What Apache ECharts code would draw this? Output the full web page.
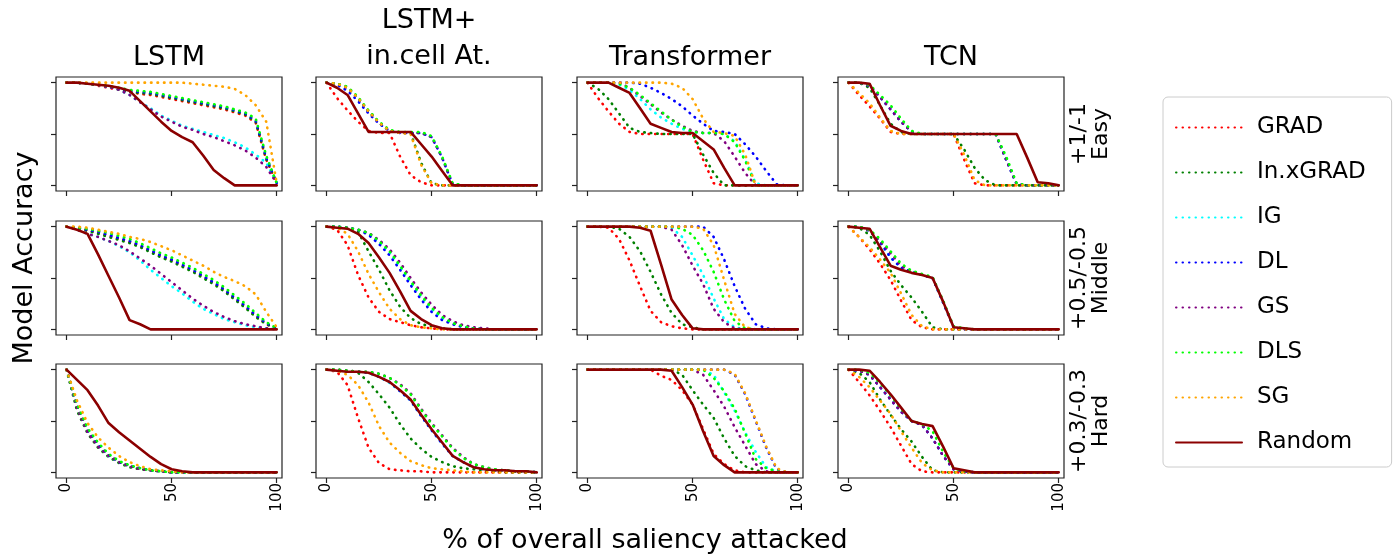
<!DOCTYPE html>
<html>
<head>
<meta charset="utf-8">
<script src="https://cdn.jsdelivr.net/npm/echarts@6/dist/echarts.min.js"></script>
<style>
  html, body { margin: 0; padding: 0; background: #fff; }
  #chart { width: 1394px; height: 557px; }
</style>
</head>
<body>
<div id="chart"></div>
<script>
// % of overall saliency attacked
const X = [0, 5, 10, 15, 20, 25, 30, 35, 40, 45, 50, 55, 60, 65, 70, 75, 80, 85, 90, 95, 100];

const methods = ['GRAD', 'In.xGRAD', 'IG', 'DL', 'GS', 'DLS', 'SG', 'Random'];
const colors = ['#ff0000', '#008000', '#00ffff', '#0000ff', '#800080', '#00ff00', '#ffa500', '#8b0000'];
const models = ['LSTM', 'LSTM+\nin.cell At.', 'Transformer', 'TCN'];
const levels = ['+1/-1\nEasy', '+0.5/-0.5\nMiddle', '+0.3/-0.3\nHard'];

// ---- Easy ----
const easyLSTM = {
  'GRAD':     [1,1,0.99,0.97,0.95, 0.93,0.91,0.89,0.88,0.86, 0.84,0.82,0.8,0.78,0.76, 0.74,0.71,0.68,0.61,0.25, 0.02],
  'In.xGRAD': [1,1,0.99,0.98,0.96, 0.93,0.91,0.9,0.89,0.87, 0.85,0.83,0.81,0.79,0.77, 0.75,0.72,0.69,0.62,0.26, 0.02],
  'IG':       [1,1,0.99,0.98,0.96, 0.93,0.88,0.81,0.75,0.68, 0.63,0.58,0.55,0.52,0.49, 0.46,0.42,0.37,0.3,0.22, 0.03],
  'DL':       [1,1,0.99,0.98,0.96, 0.94,0.92,0.91,0.9,0.88, 0.86,0.84,0.82,0.8,0.78, 0.76,0.73,0.7,0.63,0.27, 0.02],
  'GS':       [1,1,0.99,0.98,0.96, 0.93,0.88,0.81,0.74,0.67, 0.62,0.57,0.54,0.5,0.47, 0.43,0.39,0.34,0.27,0.18, 0.02],
  'DLS':      [1,1,0.99,0.98,0.97, 0.95,0.93,0.92,0.91,0.89, 0.87,0.85,0.83,0.81,0.79, 0.77,0.74,0.71,0.65,0.29, 0.02],
  'SG':       [1,1,1,1,1, 1,1,1,1,1, 1,1,0.99,0.98,0.97, 0.96,0.94,0.88,0.78,0.62, 0.02],
  'Random':   [1,1,0.99,0.98,0.97, 0.95,0.92,0.82,0.72,0.62, 0.53,0.47,0.42,0.29,0.15, 0.07,0,0,0,0, 0]
};
const easyCell = {
  'GRAD':     [1,0.85,0.73,0.62,0.53, 0.51,0.51,0.28,0.1,0.03, 0,0,0,0,0, 0,0,0,0,0, 0],
  'In.xGRAD': [1,0.99,0.95,0.85,0.72, 0.61,0.53,0.51,0.51,0.22, 0.02,0,0,0,0, 0,0,0,0,0, 0],
  'IG':       [1,0.99,0.95,0.85,0.72, 0.61,0.53,0.51,0.51,0.51, 0.47,0.27,0.01,0,0, 0,0,0,0,0, 0],
  'DL':       [1,0.98,0.92,0.82,0.7, 0.6,0.53,0.51,0.51,0.51, 0.47,0.27,0.01,0,0, 0,0,0,0,0, 0],
  'GS':       [1,0.99,0.95,0.85,0.72, 0.61,0.53,0.51,0.51,0.51, 0.47,0.27,0.01,0,0, 0,0,0,0,0, 0],
  'DLS':      [1,0.99,0.96,0.86,0.73, 0.62,0.54,0.52,0.52,0.52, 0.48,0.28,0.02,0,0, 0,0,0,0,0, 0],
  'SG':       [1,0.99,0.95,0.85,0.72, 0.61,0.53,0.51,0.5,0.2, 0.02,0,0,0,0, 0,0,0,0,0, 0],
  'Random':   [1,0.95,0.88,0.7,0.52, 0.52,0.52,0.52,0.52,0.4, 0.28,0.14,0,0,0, 0,0,0,0,0, 0]
};
const easyTrans = {
  'GRAD':     [1,0.85,0.72,0.6,0.52, 0.5,0.5,0.5,0.5,0.5, 0.5,0.25,0.02,0,0, 0,0,0,0,0, 0],
  'In.xGRAD': [1,0.94,0.84,0.7,0.56, 0.52,0.51,0.5,0.5,0.5, 0.5,0.3,0.12,0,0, 0,0,0,0,0, 0],
  'IG':       [1,1,1,0.98,0.93, 0.84,0.74,0.66,0.6,0.55, 0.52,0.51,0.51,0.5,0.43, 0.25,0.02,0,0,0, 0],
  'DL':       [1,1,1,1,1, 0.99,0.95,0.9,0.84,0.77, 0.68,0.6,0.53,0.52,0.5, 0.4,0.28,0.14,0.01,0, 0],
  'GS':       [1,1,1,1,0.95, 0.87,0.79,0.71,0.64,0.58, 0.53,0.51,0.51,0.43,0.28, 0.12,0,0,0,0, 0],
  'DLS':      [1,1,1,0.99,0.95, 0.88,0.8,0.72,0.64,0.57, 0.52,0.51,0.51,0.5,0.42, 0.24,0,0,0,0, 0],
  'SG':       [1,1,1,1,1, 1,1,1,0.99,0.95, 0.84,0.65,0.52,0.51,0.48, 0.3,0,0,0,0, 0],
  'Random':   [1,1,1,0.95,0.9, 0.75,0.6,0.56,0.52,0.51, 0.51,0.43,0.35,0.17,0, 0,0,0,0,0, 0]
};
const easyTCN = {
  'GRAD':     [1,0.88,0.77,0.65,0.52, 0.5,0.5,0.5,0.5,0.5, 0.5,0.25,0.02,0,0, 0,0,0,0,0, 0],
  'In.xGRAD': [1,1,0.95,0.78,0.6, 0.52,0.5,0.5,0.5,0.5, 0.5,0.35,0.17,0.05,0, 0,0,0,0,0, 0],
  'IG':       [1,1,0.97,0.86,0.74, 0.62,0.52,0.5,0.5,0.5, 0.5,0.5,0.5,0.5,0.5, 0.25,0.01,0,0,0, 0],
  'DL':       [1,1,0.97,0.86,0.74, 0.62,0.52,0.5,0.5,0.5, 0.5,0.5,0.5,0.5,0.5, 0.25,0.01,0,0,0, 0],
  'GS':       [1,1,0.97,0.86,0.74, 0.62,0.52,0.5,0.5,0.5, 0.5,0.5,0.5,0.5,0.5, 0.25,0.01,0,0,0, 0],
  'DLS':      [1,1,0.98,0.88,0.78, 0.65,0.53,0.5,0.5,0.5, 0.5,0.5,0.5,0.5,0.5, 0.28,0.02,0,0,0, 0],
  'SG':       [1,0.9,0.8,0.66,0.53, 0.5,0.5,0.5,0.5,0.5, 0.5,0.3,0.05,0,0, 0,0,0,0,0, 0],
  'Random':   [1,1,0.99,0.78,0.58, 0.53,0.5,0.5,0.5,0.5, 0.5,0.5,0.5,0.5,0.5, 0.5,0.5,0.27,0.03,0.02, 0]
};

// ---- Middle ----
const midLSTM = {
  'GRAD':     [1,0.99,0.96,0.94,0.91, 0.88,0.85,0.81,0.76,0.71, 0.67,0.62,0.57,0.51,0.45, 0.38,0.3,0.22,0.13,0.05, 0.01],
  'In.xGRAD': [1,0.99,0.96,0.93,0.9, 0.87,0.84,0.8,0.75,0.7, 0.66,0.61,0.56,0.5,0.44, 0.37,0.29,0.21,0.12,0.05, 0.01],
  'IG':       [1,0.97,0.93,0.9,0.86, 0.81,0.75,0.67,0.58,0.5, 0.42,0.35,0.27,0.2,0.15, 0.1,0.07,0.04,0.02,0.01, 0],
  'DL':       [1,0.99,0.97,0.95,0.92, 0.89,0.86,0.82,0.77,0.72, 0.68,0.63,0.58,0.52,0.46, 0.39,0.31,0.23,0.14,0.06, 0.01],
  'GS':       [1,0.97,0.93,0.9,0.86, 0.82,0.76,0.69,0.62,0.54, 0.46,0.38,0.3,0.23,0.17, 0.12,0.08,0.05,0.03,0.01, 0],
  'DLS':      [1,0.99,0.98,0.96,0.94, 0.91,0.88,0.84,0.79,0.74, 0.7,0.65,0.6,0.54,0.48, 0.41,0.33,0.25,0.16,0.07, 0.01],
  'SG':       [1,1,0.99,0.97,0.95, 0.93,0.9,0.88,0.85,0.81, 0.77,0.72,0.67,0.62,0.56, 0.51,0.47,0.42,0.34,0.17, 0.02],
  'Random':   [1,0.97,0.93,0.73,0.52, 0.31,0.09,0.05,0,0, 0,0,0,0,0, 0,0,0,0,0, 0]
};
const midCell = {
  'GRAD':     [1,0.97,0.82,0.53,0.31, 0.17,0.1,0.07,0.04,0.02, 0.01,0,0,0,0, 0,0,0,0,0, 0],
  'In.xGRAD': [1,1,0.99,0.95,0.76, 0.58,0.38,0.22,0.11,0.05, 0.03,0.01,0,0,0, 0,0,0,0,0, 0],
  'IG':       [1,1,0.99,0.97,0.93, 0.85,0.75,0.61,0.46,0.32, 0.2,0.11,0.06,0.03,0.01, 0,0,0,0,0, 0],
  'DL':       [1,1,0.99,0.97,0.92, 0.83,0.72,0.58,0.43,0.29, 0.17,0.09,0.05,0.02,0.01, 0,0,0,0,0, 0],
  'GS':       [1,1,0.99,0.97,0.94, 0.87,0.78,0.65,0.5,0.36, 0.24,0.14,0.08,0.04,0.02, 0.01,0,0,0,0, 0],
  'DLS':      [1,1,0.99,0.97,0.94, 0.86,0.76,0.62,0.47,0.33, 0.21,0.12,0.06,0.03,0.01, 0,0,0,0,0, 0],
  'SG':       [1,0.99,0.93,0.76,0.54, 0.36,0.2,0.1,0.04,0.02, 0.01,0,0,0,0, 0,0,0,0,0, 0],
  'Random':   [1,0.99,0.98,0.93,0.84, 0.7,0.55,0.37,0.18,0.1, 0.04,0.01,0,0,0, 0,0,0,0,0, 0]
};
const midTrans = {
  'GRAD':     [1,1,0.99,0.88,0.67, 0.42,0.18,0.07,0.03,0.01, 0,0,0,0,0, 0,0,0,0,0, 0],
  'In.xGRAD': [1,1,1,0.98,0.9, 0.76,0.56,0.34,0.16,0.05, 0.02,0,0,0,0, 0,0,0,0,0, 0],
  'IG':       [1,1,1,1,1, 1,1,1,0.99,0.9, 0.72,0.53,0.3,0.1,0.02, 0,0,0,0,0, 0],
  'DL':       [1,1,1,1,1, 1,1,1,1,1, 1,1,0.9,0.68,0.42, 0.2,0.05,0.01,0,0, 0],
  'GS':       [1,1,1,1,1, 1,1,1,0.97,0.82, 0.62,0.44,0.2,0.07,0.01, 0,0,0,0,0, 0],
  'DLS':      [1,1,1,1,1, 1,1,1,1,0.98, 0.92,0.77,0.56,0.29,0.08, 0.01,0,0,0,0, 0],
  'SG':       [1,1,1,1,1, 1,1,1,1,1, 1,0.98,0.82,0.48,0.15, 0.02,0,0,0,0, 0],
  'Random':   [1,1,1,1,1, 0.99,0.96,0.63,0.29,0.14, 0.01,0,0,0,0, 0,0,0,0,0, 0]
};
const midTCN = {
  'GRAD':     [1,0.9,0.78,0.64,0.48, 0.28,0.09,0.02,0,0, 0,0,0,0,0, 0,0,0,0,0, 0],
  'In.xGRAD': [1,0.99,0.92,0.76,0.57, 0.43,0.31,0.17,0.02,0, 0,0,0,0,0, 0,0,0,0,0, 0],
  'IG':       [1,1,0.96,0.85,0.7, 0.6,0.56,0.53,0.5,0.26, 0.02,0,0,0,0, 0,0,0,0,0, 0],
  'DL':       [1,1,0.96,0.85,0.7, 0.6,0.56,0.53,0.5,0.26, 0.02,0,0,0,0, 0,0,0,0,0, 0],
  'GS':       [1,1,0.96,0.86,0.74, 0.62,0.56,0.53,0.5,0.27, 0.02,0,0,0,0, 0,0,0,0,0, 0],
  'DLS':      [1,1,0.97,0.88,0.76, 0.64,0.57,0.54,0.51,0.28, 0.03,0.01,0,0,0, 0,0,0,0,0, 0],
  'SG':       [1,0.9,0.8,0.68,0.55, 0.35,0.14,0.03,0,0, 0,0,0,0,0, 0,0,0,0,0, 0],
  'Random':   [1,0.99,0.98,0.8,0.62, 0.58,0.55,0.53,0.5,0.27, 0.02,0.01,0,0,0, 0,0,0,0,0, 0]
};

// ---- Hard ----
const hardLSTM = {
  'GRAD':     [1,0.65,0.41,0.27,0.17, 0.1,0.06,0.04,0.02,0.01, 0,0,0,0,0, 0,0,0,0,0, 0],
  'In.xGRAD': [1,0.6,0.38,0.24,0.15, 0.09,0.05,0.03,0.02,0.01, 0,0,0,0,0, 0,0,0,0,0, 0],
  'IG':       [1,0.64,0.4,0.26,0.16, 0.1,0.06,0.04,0.02,0.01, 0,0,0,0,0, 0,0,0,0,0, 0],
  'DL':       [1,0.65,0.41,0.27,0.17, 0.1,0.06,0.04,0.02,0.01, 0,0,0,0,0, 0,0,0,0,0, 0],
  'GS':       [1,0.63,0.39,0.25,0.16, 0.1,0.06,0.03,0.02,0.01, 0,0,0,0,0, 0,0,0,0,0, 0],
  'DLS':      [1,0.66,0.43,0.29,0.18, 0.11,0.07,0.04,0.02,0.01, 0,0,0,0,0, 0,0,0,0,0, 0],
  'SG':       [1,0.7,0.48,0.34,0.24, 0.16,0.1,0.06,0.03,0.02, 0.01,0,0,0,0, 0,0,0,0,0, 0],
  'Random':   [1,0.9,0.8,0.65,0.48, 0.39,0.31,0.23,0.15,0.08, 0.03,0.01,0,0,0, 0,0,0,0,0, 0]
};
const hardCell = {
  'GRAD':     [1,0.98,0.85,0.53,0.24, 0.09,0.03,0.02,0.01,0.01, 0,0,0,0,0, 0,0,0,0,0, 0],
  'In.xGRAD': [1,1,0.99,0.97,0.88, 0.76,0.63,0.47,0.33,0.23, 0.15,0.1,0.06,0.04,0.03, 0.02,0.01,0,0,0, 0],
  'IG':       [1,0.99,0.98,0.98,0.97, 0.93,0.87,0.79,0.7,0.55, 0.41,0.28,0.16,0.1,0.05, 0.03,0.02,0.02,0.01,0.01, 0],
  'DL':       [1,0.99,0.98,0.98,0.97, 0.93,0.88,0.79,0.7,0.55, 0.41,0.28,0.16,0.1,0.05, 0.03,0.02,0.02,0.01,0.01, 0],
  'GS':       [1,1,0.99,0.98,0.98, 0.96,0.92,0.86,0.77,0.62, 0.48,0.36,0.24,0.15,0.08, 0.05,0.03,0.02,0.01,0.01, 0],
  'DLS':      [1,1,0.99,0.98,0.98, 0.96,0.92,0.85,0.76,0.61, 0.47,0.35,0.23,0.14,0.08, 0.05,0.03,0.02,0.01,0.01, 0],
  'SG':       [1,0.99,0.95,0.85,0.68, 0.45,0.29,0.19,0.11,0.07, 0.04,0.03,0.02,0.01,0, 0,0,0,0,0, 0],
  'Random':   [1,0.99,0.98,0.98,0.97, 0.93,0.88,0.8,0.71,0.56, 0.42,0.29,0.16,0.1,0.05, 0.03,0.02,0.02,0.01,0.01, 0]
};
const hardTrans = {
  'GRAD':     [1,1,1,1,1, 1,1,0.94,0.9,0.8, 0.66,0.42,0.18,0.08,0.02, 0,0,0,0,0, 0],
  'In.xGRAD': [1,1,1,1,1, 1,1,1,1,0.95, 0.8,0.66,0.53,0.33,0.16, 0.06,0.02,0,0,0, 0],
  'IG':       [1,1,1,1,1, 1,1,1,1,1, 1,1,0.95,0.78,0.6, 0.39,0.2,0.05,0.01,0, 0],
  'DL':       [1,1,1,1,1, 1,1,1,1,1, 1,1,1,1,0.95, 0.76,0.5,0.24,0.03,0, 0],
  'GS':       [1,1,1,1,1, 1,1,1,1,1, 1,0.95,0.8,0.64,0.44, 0.26,0.08,0.01,0,0, 0],
  'DLS':      [1,1,1,1,1, 1,1,1,1,1, 1,1,0.92,0.79,0.62, 0.38,0.13,0.04,0.01,0, 0],
  'SG':       [1,1,1,1,1, 1,1,1,1,1, 1,1,1,1,0.96, 0.77,0.51,0.25,0.04,0, 0],
  'Random':   [1,1,1,1,1, 1,1,1,0.99,0.83, 0.66,0.4,0.16,0.07,0, 0,0,0,0,0, 0]
};
const hardTCN = {
  'GRAD':     [1,0.88,0.75,0.6,0.44, 0.26,0.08,0.01,0,0, 0,0,0,0,0, 0,0,0,0,0, 0],
  'In.xGRAD': [1,0.97,0.88,0.71,0.56, 0.42,0.3,0.15,0.02,0, 0,0,0,0,0, 0,0,0,0,0, 0],
  'IG':       [1,0.99,0.95,0.83,0.71, 0.59,0.5,0.46,0.33,0.16, 0.03,0.01,0,0,0, 0,0,0,0,0, 0],
  'DL':       [1,0.99,0.95,0.83,0.71, 0.59,0.5,0.46,0.33,0.16, 0.03,0.01,0,0,0, 0,0,0,0,0, 0],
  'GS':       [1,0.99,0.95,0.83,0.71, 0.59,0.5,0.46,0.33,0.16, 0.03,0.01,0,0,0, 0,0,0,0,0, 0],
  'DLS':      [1,1,0.97,0.87,0.75, 0.62,0.5,0.47,0.4,0.2, 0.04,0.01,0,0,0, 0,0,0,0,0, 0],
  'SG':       [1,0.93,0.83,0.7,0.57, 0.4,0.24,0.09,0.02,0, 0,0,0,0,0, 0,0,0,0,0, 0],
  'Random':   [1,1,0.99,0.88,0.76, 0.63,0.5,0.47,0.45,0.25, 0.04,0.02,0,0,0, 0,0,0,0,0, 0]
};

const panels = [
  [easyLSTM, easyCell, easyTrans, easyTCN],
  [midLSTM, midCell, midTrans, midTCN],
  [hardLSTM, hardCell, hardTrans, hardTCN]
];

const FONT = 'DejaVu Sans';
const colLeft = [56, 316, 577, 838];
const rowTop = [77, 221, 364];
const W = 226, H = 114;

const chart = echarts.init(document.getElementById('chart'), null, { renderer: 'canvas' });

const grid = [], xAxis = [], yAxis = [], series = [], graphic = [];

panels.forEach((row, r) => {
  row.forEach((panel, c) => {
    const i = grid.length;
    grid.push({
      left: colLeft[c], top: rowTop[r], width: W, height: H,
      show: true, borderColor: '#222', borderWidth: 1.2, backgroundColor: 'transparent'
    });
    xAxis.push({
      gridIndex: i, type: 'value', min: -5, max: 102.5,
      axisLine: { show: false, onZero: false },
      axisTick: { show: true, customValues: [0, 50, 100], length: 5, lineStyle: { color: '#222', width: 1.2 } },
      axisLabel: {
        show: r === 2, customValues: [0, 50, 100], rotate: 90, margin: 5,
        fontSize: 15, color: '#000', fontFamily: FONT
      },
      splitLine: { show: false }
    });
    yAxis.push({
      gridIndex: i, type: 'value', min: -0.055, max: 1.055,
      axisLine: { show: false, onZero: false },
      axisTick: { show: true, customValues: [0, 0.5, 1], length: 5, lineStyle: { color: '#222', width: 1.2 } },
      axisLabel: { show: false },
      splitLine: { show: false }
    });
    methods.forEach((m, k) => {
      const vals = panel[m];
      series.push({
        type: 'line', name: m, xAxisIndex: i, yAxisIndex: i,
        data: X.map((x, j) => [x, vals[j]]),
        symbol: 'none', silent: true,
        itemStyle: { color: colors[k] },
        lineStyle: {
          color: colors[k], width: 2.6,
          type: m === 'Random' ? 'solid' : [0.5, 6],
          cap: 'round'
        }
      });
    });
  });
});

// column titles
models.forEach((t, c) => {
  const multi = t.indexOf('\n') >= 0;
  graphic.push({
    type: 'text', x: colLeft[c] + W / 2, y: multi ? 39 : 58,
    style: {
      text: t, textAlign: 'center', textVerticalAlign: 'middle',
      font: '27px "' + FONT + '"', fill: '#000', lineHeight: 36
    }
  });
});

// row labels on the right
levels.forEach((t, r) => {
  graphic.push({
    type: 'text', x: 1090, y: rowTop[r] + H / 2, rotation: Math.PI / 2,
    style: {
      text: t, textAlign: 'center', textVerticalAlign: 'middle',
      font: '22px "' + FONT + '"', fill: '#000', lineHeight: 22
    }
  });
});

graphic.push({
  type: 'text', x: 25, y: 258, rotation: Math.PI / 2,
  style: { text: 'Model Accuracy', textAlign: 'center', textVerticalAlign: 'middle', font: '27px "' + FONT + '"', fill: '#000' }
});
graphic.push({
  type: 'text', x: 645, y: 541,
  style: { text: '% of overall saliency attacked', textAlign: 'center', textVerticalAlign: 'middle', font: '27px "' + FONT + '"', fill: '#000' }
});

chart.setOption({
  animation: false,
  backgroundColor: '#fff',
  grid, xAxis, yAxis, series, graphic,
  legend: {
    data: methods, orient: 'vertical', left: 1163, top: 97,
    itemWidth: 66, itemHeight: 22, itemGap: 22,
    padding: [19, 26, 13, 12],
    borderColor: '#ccc', borderWidth: 1, borderRadius: 5,
    itemStyle: { color: 'transparent', borderColor: 'transparent', borderWidth: 0 },
    textStyle: { fontSize: 23, color: '#000', fontFamily: FONT, padding: [0, 0, 0, 10] }
  }
});
</script>
</body>
</html>
